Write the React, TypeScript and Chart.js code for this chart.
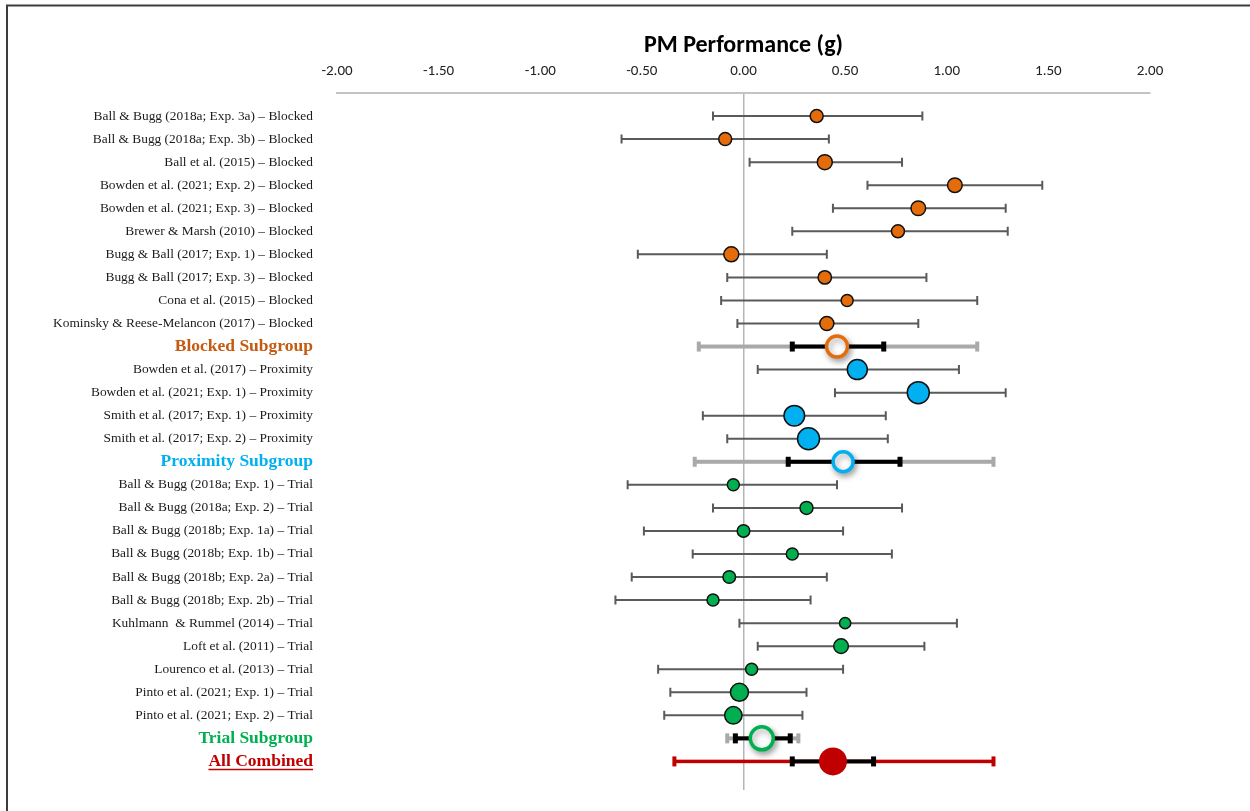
import { useEffect, useRef } from "react";
import { Chart, registerables } from "chart.js";
Chart.register(...registerables);

// ---------- data ----------
const blockedStudies = [
  "Ball & Bugg (2018a; Exp. 3a) – Blocked",
  "Ball & Bugg (2018a; Exp. 3b) – Blocked",
  "Ball et al. (2015) – Blocked",
  "Bowden et al. (2021; Exp. 2) – Blocked",
  "Bowden et al. (2021; Exp. 3) – Blocked",
  "Brewer & Marsh (2010) – Blocked",
  "Bugg & Ball (2017; Exp. 1) – Blocked",
  "Bugg & Ball (2017; Exp. 3) – Blocked",
  "Cona et al. (2015) – Blocked",
  "Kominsky & Reese-Melancon (2017) – Blocked",
];
const blockedG = [0.36, -0.09, 0.4, 1.04, 0.86, 0.76, -0.06, 0.4, 0.51, 0.41];
const blockedLo = [-0.15, -0.6, 0.03, 0.61, 0.44, 0.24, -0.52, -0.08, -0.11, -0.03];
const blockedHi = [0.88, 0.42, 0.78, 1.47, 1.29, 1.3, 0.41, 0.9, 1.15, 0.86];
const blockedWeight = [6.5, 6.5, 7.5, 7.3, 7.3, 6.5, 7.5, 6.7, 6.0, 7.0];

const proximityStudies = [
  "Bowden et al. (2017) – Proximity",
  "Bowden et al. (2021; Exp. 1) – Proximity",
  "Smith et al. (2017; Exp. 1) – Proximity",
  "Smith et al. (2017; Exp. 2) – Proximity",
];
const proximityG = [0.56, 0.86, 0.25, 0.32];
const proximityLo = [0.07, 0.45, -0.2, -0.08];
const proximityHi = [1.06, 1.29, 0.7, 0.71];
const proximityWeight = [10, 11, 10.3, 11];

const trialStudies = [
  "Ball & Bugg (2018a; Exp. 1) – Trial",
  "Ball & Bugg (2018a; Exp. 2) – Trial",
  "Ball & Bugg (2018b; Exp. 1a) – Trial",
  "Ball & Bugg (2018b; Exp. 1b) – Trial",
  "Ball & Bugg (2018b; Exp. 2a) – Trial",
  "Ball & Bugg (2018b; Exp. 2b) – Trial",
  "Kuhlmann  & Rummel (2014) – Trial",
  "Loft et al. (2011) – Trial",
  "Lourenco et al. (2013) – Trial",
  "Pinto et al. (2021; Exp. 1) – Trial",
  "Pinto et al. (2021; Exp. 2) – Trial",
];
const trialG = [-0.05, 0.31, 0.0, 0.24, -0.07, -0.15, 0.5, 0.48, 0.04, -0.02, -0.05];
const trialLo = [-0.57, -0.15, -0.49, -0.25, -0.55, -0.63, -0.02, 0.07, -0.42, -0.36, -0.39];
const trialHi = [0.46, 0.78, 0.49, 0.73, 0.41, 0.33, 1.05, 0.89, 0.49, 0.31, 0.29];
const trialWeight = [6.0, 6.5, 6.3, 6.0, 6.3, 6.0, 5.6, 7.3, 6.0, 9.0, 8.7];

const summaryLabels = ["Blocked Subgroup", "Proximity Subgroup", "Trial Subgroup", "All Combined"];
const summaryG = [0.46, 0.49, 0.09, 0.44];
const summaryCiLo = [0.24, 0.22, -0.04, 0.24];
const summaryCiHi = [0.69, 0.77, 0.23, 0.64];
const summaryPiLo = [-0.22, -0.24, -0.08, -0.34];
const summaryPiHi = [1.15, 1.23, 0.27, 1.23];

const xTicksMin = -2;
const xTicksMax = 2;
const xTickStep = 0.5;

// ---------- styles ----------
const ORANGE = "#E46C0A";
const ORANGE_TXT = "#C55A11";
const BLUE = "#00B0F0";
const GREEN = "#00B050";
const RED = "#C00000";
const SERIF = "'Liberation Serif', 'Times New Roman', serif";
const SANS = "Carlito, Lato, 'Open Sans', sans-serif";

export default function App() {
  const ref = useRef<HTMLCanvasElement>(null);

  useEffect(() => {
    const canvas = ref.current;
    if (!canvas) return;

    const labels: string[] = [
      ...blockedStudies,
      summaryLabels[0],
      ...proximityStudies,
      summaryLabels[1],
      ...trialStudies,
      summaryLabels[2],
      summaryLabels[3],
    ];
    const blockedRows = blockedStudies.map((_, i) => i);
    const blockedSubRow = blockedStudies.length;
    const proxRows = proximityStudies.map((_, i) => blockedSubRow + 1 + i);
    const proxSubRow = blockedSubRow + 1 + proximityStudies.length;
    const trialRows = trialStudies.map((_, i) => proxSubRow + 1 + i);
    const trialSubRow = proxSubRow + 1 + trialStudies.length;
    const allRow = trialSubRow + 1;
    const summaryRows = [blockedSubRow, proxSubRow, trialSubRow, allRow];
    const summaryColors = [ORANGE, BLUE, GREEN, RED];
    const labelColors: Record<number, string> = {
      [blockedSubRow]: ORANGE_TXT,
      [proxSubRow]: BLUE,
      [trialSubRow]: GREEN,
      [allRow]: RED,
    };

    const studyBars = [
      ...blockedRows.map((r, i) => ({ row: r, lo: blockedLo[i], hi: blockedHi[i] })),
      ...proxRows.map((r, i) => ({ row: r, lo: proximityLo[i], hi: proximityHi[i] })),
      ...trialRows.map((r, i) => ({ row: r, lo: trialLo[i], hi: trialHi[i] })),
    ];

    const errorBars = {
      id: "errorBars",
      beforeDatasetsDraw(chart: any) {
        const { ctx, scales } = chart;
        const x = scales.x;
        const y = scales.y;
        ctx.save();
        ctx.strokeStyle = "#5a5a5a";
        ctx.lineWidth = 2;
        studyBars.forEach((b) => {
          const py = y.getPixelForValue(b.row);
          const x1 = x.getPixelForValue(b.lo);
          const x2 = x.getPixelForValue(b.hi);
          ctx.beginPath();
          ctx.moveTo(x1, py);
          ctx.lineTo(x2, py);
          ctx.moveTo(x1, py - 4.5);
          ctx.lineTo(x1, py + 4.5);
          ctx.moveTo(x2, py - 4.5);
          ctx.lineTo(x2, py + 4.5);
          ctx.stroke();
        });
        summaryRows.forEach((row, i) => {
          const py = y.getPixelForValue(row);
          const isAll = i === summaryRows.length - 1;
          const p1 = x.getPixelForValue(summaryPiLo[i]);
          const p2 = x.getPixelForValue(summaryPiHi[i]);
          const c1 = x.getPixelForValue(summaryCiLo[i]);
          const c2 = x.getPixelForValue(summaryCiHi[i]);
          ctx.fillStyle = isAll ? RED : "#a9a9a9";
          const th = isAll ? 3.5 : 4;
          ctx.fillRect(p1, py - th / 2, p2 - p1, th);
          ctx.fillRect(p1 - 2, py - 5, 4, 10);
          ctx.fillRect(p2 - 2, py - 5, 4, 10);
          ctx.fillStyle = "#000";
          ctx.fillRect(c1, py - 2, c2 - c1, 4);
          ctx.fillRect(c1 - 2.5, py - 5, 5, 10);
          ctx.fillRect(c2 - 2.5, py - 5, 5, 10);
        });
        ctx.restore();
      },
    };

    const shadow = {
      id: "shadow",
      beforeDatasetDraw(chart: any, args: any) {
        const ds = chart.data.datasets[args.index];
        if (ds.shadow) {
          const ctx = chart.ctx;
          ctx.save();
          ctx.shadowColor = "rgba(0,0,0,0.35)";
          ctx.shadowBlur = 6;
          ctx.shadowOffsetX = 2;
          ctx.shadowOffsetY = 3;
        }
      },
      afterDatasetDraw(chart: any, args: any) {
        const ds = chart.data.datasets[args.index];
        if (ds.shadow) chart.ctx.restore();
      },
    };

    const frame = {
      id: "frame",
      afterDraw(chart: any) {
        const { ctx, scales } = chart;
        ctx.save();
        ctx.strokeStyle = "#3c3c3c";
        ctx.lineWidth = 2;
        ctx.beginPath();
        ctx.moveTo(7, chart.height);
        ctx.lineTo(7, 5.5);
        ctx.lineTo(chart.width, 5.5);
        ctx.stroke();
        // underline for "All Combined"
        const y = scales.y;
        const py = y.getPixelForValue(allRow);
        ctx.font = `bold 17.5px ${SERIF}`;
        const w = ctx.measureText(labels[allRow]).width;
        const right = y.right - 24;
        ctx.strokeStyle = RED;
        ctx.lineWidth = 1.5;
        ctx.beginPath();
        ctx.moveTo(right - w, py + 8);
        ctx.lineTo(right, py + 8);
        ctx.stroke();
        ctx.restore();
      },
    };

    const chart = new Chart(canvas, {
      type: "scatter",
      data: {
        datasets: [
          {
            data: blockedG.map((g, i) => ({ x: g, y: blockedRows[i] })),
            pointRadius: blockedWeight,
            pointBackgroundColor: ORANGE,
            pointBorderColor: "#111",
            pointBorderWidth: 1.5,
          },
          {
            data: proximityG.map((g, i) => ({ x: g, y: proxRows[i] })),
            pointRadius: proximityWeight,
            pointBackgroundColor: BLUE,
            pointBorderColor: "#111",
            pointBorderWidth: 1.5,
          },
          {
            data: trialG.map((g, i) => ({ x: g, y: trialRows[i] })),
            pointRadius: trialWeight,
            pointBackgroundColor: GREEN,
            pointBorderColor: "#111",
            pointBorderWidth: 1.5,
          },
          {
            shadow: true,
            data: summaryG.slice(0, 3).map((g, i) => ({ x: g, y: summaryRows[i] })),
            pointRadius: [10.5, 10, 11.5],
            pointBackgroundColor: "#fff",
            pointBorderColor: summaryColors.slice(0, 3),
            pointBorderWidth: 3.5,
          },
          {
            data: [{ x: summaryG[3], y: allRow }],
            pointRadius: 14,
            pointBackgroundColor: RED,
            pointBorderColor: RED,
            pointBorderWidth: 0,
          },
        ] as any,
      },
      options: {
        animation: false,
        responsive: false,
        devicePixelRatio: 1,
        layout: { padding: { left: 0, right: 100, top: 0, bottom: 21 } },
        plugins: {
          legend: { display: false },
          tooltip: { enabled: false },
          title: {
            display: true,
            text: "PM Performance (g)",
            fullSize: false,
            color: "#000",
            font: { family: SANS, size: 24, weight: "bold", lineHeight: 1.2 },
            padding: { top: 32, bottom: 0 },
          },
        },
        scales: {
          x: {
            type: "linear",
            position: "top",
            min: xTicksMin,
            max: xTicksMax,
            ticks: {
              stepSize: xTickStep,
              padding: 13,
              color: "#222",
              font: { family: SANS, size: 15 },
              callback: (v: any) => Number(v).toFixed(2),
            },
            grid: {
              drawTicks: false,
              lineWidth: 1.5,
              color: (c: any) => (c.tick && c.tick.value === 0 ? "#b5b5b5" : "rgba(0,0,0,0)"),
            },
            border: { display: true, color: "#c3c3c3", width: 2 },
            afterFit: (s: any) => {
              s.height = 93 - 60.8;
            },
          },
          y: {
            type: "linear",
            reverse: true,
            min: -1,
            max: 29.24,
            afterBuildTicks: (s: any) => {
              s.ticks = labels.map((_, i) => ({ value: i }));
            },
            afterFit: (s: any) => {
              s.width = 337;
              s.paddingTop = 0;
              s.paddingBottom = 0;
            },
            ticks: {
              autoSkip: false,
              padding: 24,
              callback: (v: any) => labels[v] ?? "",
              color: (c: any) => labelColors[c.tick?.value] ?? "#1a1a1a",
              font: (c: any) =>
                labelColors[c.tick?.value]
                  ? { family: SERIF, size: 17.5, weight: "bold" }
                  : { family: SERIF, size: 13.4 },
            },
            grid: { display: false, drawTicks: false },
            border: { display: false },
          },
        },
      } as any,
      plugins: [errorBars, shadow, frame],
    });

    return () => chart.destroy();
  }, []);

  return (
    <div style={{ position: "fixed", left: 0, top: 0, width: 1250, height: 811, background: "#fff" }}>
      <canvas ref={ref} width={1250} height={811} />
    </div>
  );
}
